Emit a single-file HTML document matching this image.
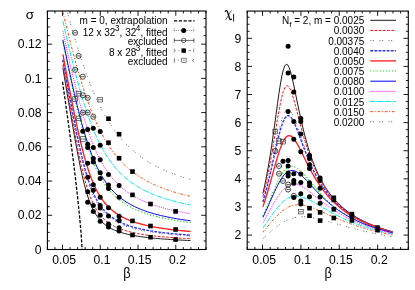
<!DOCTYPE html>
<html><head><meta charset="utf-8"><title>plot</title>
<style>
html,body{margin:0;padding:0;background:#fff;}
svg{display:block;font-family:"Liberation Sans",sans-serif;fill:#000;}
</style></head><body>
<div style="will-change:transform;width:415px;height:290px">
<svg width="415" height="290" viewBox="0 0 415 290">
<rect width="415" height="290" fill="#fff"/>
<g>
<rect x="47.4" y="11.0" width="158.60" height="238.50" fill="none" stroke="#000" stroke-width="1.1"/>
<line x1="47.40" y1="249.50" x2="47.40" y2="247.10" stroke="#000" stroke-width="0.9" />
<line x1="47.40" y1="11.00" x2="47.40" y2="13.40" stroke="#000" stroke-width="0.9" />
<line x1="54.95" y1="249.50" x2="54.95" y2="247.10" stroke="#000" stroke-width="0.9" />
<line x1="54.95" y1="11.00" x2="54.95" y2="13.40" stroke="#000" stroke-width="0.9" />
<line x1="62.50" y1="249.50" x2="62.50" y2="244.70" stroke="#000" stroke-width="0.9" />
<line x1="62.50" y1="11.00" x2="62.50" y2="15.80" stroke="#000" stroke-width="0.9" />
<line x1="70.06" y1="249.50" x2="70.06" y2="247.10" stroke="#000" stroke-width="0.9" />
<line x1="70.06" y1="11.00" x2="70.06" y2="13.40" stroke="#000" stroke-width="0.9" />
<line x1="77.61" y1="249.50" x2="77.61" y2="247.10" stroke="#000" stroke-width="0.9" />
<line x1="77.61" y1="11.00" x2="77.61" y2="13.40" stroke="#000" stroke-width="0.9" />
<line x1="85.16" y1="249.50" x2="85.16" y2="247.10" stroke="#000" stroke-width="0.9" />
<line x1="85.16" y1="11.00" x2="85.16" y2="13.40" stroke="#000" stroke-width="0.9" />
<line x1="92.71" y1="249.50" x2="92.71" y2="247.10" stroke="#000" stroke-width="0.9" />
<line x1="92.71" y1="11.00" x2="92.71" y2="13.40" stroke="#000" stroke-width="0.9" />
<line x1="100.27" y1="249.50" x2="100.27" y2="244.70" stroke="#000" stroke-width="0.9" />
<line x1="100.27" y1="11.00" x2="100.27" y2="15.80" stroke="#000" stroke-width="0.9" />
<line x1="107.82" y1="249.50" x2="107.82" y2="247.10" stroke="#000" stroke-width="0.9" />
<line x1="107.82" y1="11.00" x2="107.82" y2="13.40" stroke="#000" stroke-width="0.9" />
<line x1="115.37" y1="249.50" x2="115.37" y2="247.10" stroke="#000" stroke-width="0.9" />
<line x1="115.37" y1="11.00" x2="115.37" y2="13.40" stroke="#000" stroke-width="0.9" />
<line x1="122.92" y1="249.50" x2="122.92" y2="247.10" stroke="#000" stroke-width="0.9" />
<line x1="122.92" y1="11.00" x2="122.92" y2="13.40" stroke="#000" stroke-width="0.9" />
<line x1="130.48" y1="249.50" x2="130.48" y2="247.10" stroke="#000" stroke-width="0.9" />
<line x1="130.48" y1="11.00" x2="130.48" y2="13.40" stroke="#000" stroke-width="0.9" />
<line x1="138.03" y1="249.50" x2="138.03" y2="244.70" stroke="#000" stroke-width="0.9" />
<line x1="138.03" y1="11.00" x2="138.03" y2="15.80" stroke="#000" stroke-width="0.9" />
<line x1="145.58" y1="249.50" x2="145.58" y2="247.10" stroke="#000" stroke-width="0.9" />
<line x1="145.58" y1="11.00" x2="145.58" y2="13.40" stroke="#000" stroke-width="0.9" />
<line x1="153.13" y1="249.50" x2="153.13" y2="247.10" stroke="#000" stroke-width="0.9" />
<line x1="153.13" y1="11.00" x2="153.13" y2="13.40" stroke="#000" stroke-width="0.9" />
<line x1="160.69" y1="249.50" x2="160.69" y2="247.10" stroke="#000" stroke-width="0.9" />
<line x1="160.69" y1="11.00" x2="160.69" y2="13.40" stroke="#000" stroke-width="0.9" />
<line x1="168.24" y1="249.50" x2="168.24" y2="247.10" stroke="#000" stroke-width="0.9" />
<line x1="168.24" y1="11.00" x2="168.24" y2="13.40" stroke="#000" stroke-width="0.9" />
<line x1="175.79" y1="249.50" x2="175.79" y2="244.70" stroke="#000" stroke-width="0.9" />
<line x1="175.79" y1="11.00" x2="175.79" y2="15.80" stroke="#000" stroke-width="0.9" />
<line x1="183.34" y1="249.50" x2="183.34" y2="247.10" stroke="#000" stroke-width="0.9" />
<line x1="183.34" y1="11.00" x2="183.34" y2="13.40" stroke="#000" stroke-width="0.9" />
<line x1="190.90" y1="249.50" x2="190.90" y2="247.10" stroke="#000" stroke-width="0.9" />
<line x1="190.90" y1="11.00" x2="190.90" y2="13.40" stroke="#000" stroke-width="0.9" />
<line x1="198.45" y1="249.50" x2="198.45" y2="247.10" stroke="#000" stroke-width="0.9" />
<line x1="198.45" y1="11.00" x2="198.45" y2="13.40" stroke="#000" stroke-width="0.9" />
<line x1="206.00" y1="249.50" x2="206.00" y2="247.10" stroke="#000" stroke-width="0.9" />
<line x1="206.00" y1="11.00" x2="206.00" y2="13.40" stroke="#000" stroke-width="0.9" />
<line x1="47.40" y1="240.94" x2="49.80" y2="240.94" stroke="#000" stroke-width="0.9" />
<line x1="206.00" y1="240.94" x2="203.60" y2="240.94" stroke="#000" stroke-width="0.9" />
<line x1="47.40" y1="232.39" x2="49.80" y2="232.39" stroke="#000" stroke-width="0.9" />
<line x1="206.00" y1="232.39" x2="203.60" y2="232.39" stroke="#000" stroke-width="0.9" />
<line x1="47.40" y1="223.84" x2="49.80" y2="223.84" stroke="#000" stroke-width="0.9" />
<line x1="206.00" y1="223.84" x2="203.60" y2="223.84" stroke="#000" stroke-width="0.9" />
<line x1="47.40" y1="215.28" x2="52.20" y2="215.28" stroke="#000" stroke-width="0.9" />
<line x1="206.00" y1="215.28" x2="201.20" y2="215.28" stroke="#000" stroke-width="0.9" />
<line x1="47.40" y1="206.72" x2="49.80" y2="206.72" stroke="#000" stroke-width="0.9" />
<line x1="206.00" y1="206.72" x2="203.60" y2="206.72" stroke="#000" stroke-width="0.9" />
<line x1="47.40" y1="198.17" x2="49.80" y2="198.17" stroke="#000" stroke-width="0.9" />
<line x1="206.00" y1="198.17" x2="203.60" y2="198.17" stroke="#000" stroke-width="0.9" />
<line x1="47.40" y1="189.62" x2="49.80" y2="189.62" stroke="#000" stroke-width="0.9" />
<line x1="206.00" y1="189.62" x2="203.60" y2="189.62" stroke="#000" stroke-width="0.9" />
<line x1="47.40" y1="181.06" x2="52.20" y2="181.06" stroke="#000" stroke-width="0.9" />
<line x1="206.00" y1="181.06" x2="201.20" y2="181.06" stroke="#000" stroke-width="0.9" />
<line x1="47.40" y1="172.50" x2="49.80" y2="172.50" stroke="#000" stroke-width="0.9" />
<line x1="206.00" y1="172.50" x2="203.60" y2="172.50" stroke="#000" stroke-width="0.9" />
<line x1="47.40" y1="163.95" x2="49.80" y2="163.95" stroke="#000" stroke-width="0.9" />
<line x1="206.00" y1="163.95" x2="203.60" y2="163.95" stroke="#000" stroke-width="0.9" />
<line x1="47.40" y1="155.39" x2="49.80" y2="155.39" stroke="#000" stroke-width="0.9" />
<line x1="206.00" y1="155.39" x2="203.60" y2="155.39" stroke="#000" stroke-width="0.9" />
<line x1="47.40" y1="146.84" x2="52.20" y2="146.84" stroke="#000" stroke-width="0.9" />
<line x1="206.00" y1="146.84" x2="201.20" y2="146.84" stroke="#000" stroke-width="0.9" />
<line x1="47.40" y1="138.28" x2="49.80" y2="138.28" stroke="#000" stroke-width="0.9" />
<line x1="206.00" y1="138.28" x2="203.60" y2="138.28" stroke="#000" stroke-width="0.9" />
<line x1="47.40" y1="129.73" x2="49.80" y2="129.73" stroke="#000" stroke-width="0.9" />
<line x1="206.00" y1="129.73" x2="203.60" y2="129.73" stroke="#000" stroke-width="0.9" />
<line x1="47.40" y1="121.18" x2="49.80" y2="121.18" stroke="#000" stroke-width="0.9" />
<line x1="206.00" y1="121.18" x2="203.60" y2="121.18" stroke="#000" stroke-width="0.9" />
<line x1="47.40" y1="112.62" x2="52.20" y2="112.62" stroke="#000" stroke-width="0.9" />
<line x1="206.00" y1="112.62" x2="201.20" y2="112.62" stroke="#000" stroke-width="0.9" />
<line x1="47.40" y1="104.06" x2="49.80" y2="104.06" stroke="#000" stroke-width="0.9" />
<line x1="206.00" y1="104.06" x2="203.60" y2="104.06" stroke="#000" stroke-width="0.9" />
<line x1="47.40" y1="95.51" x2="49.80" y2="95.51" stroke="#000" stroke-width="0.9" />
<line x1="206.00" y1="95.51" x2="203.60" y2="95.51" stroke="#000" stroke-width="0.9" />
<line x1="47.40" y1="86.95" x2="49.80" y2="86.95" stroke="#000" stroke-width="0.9" />
<line x1="206.00" y1="86.95" x2="203.60" y2="86.95" stroke="#000" stroke-width="0.9" />
<line x1="47.40" y1="78.40" x2="52.20" y2="78.40" stroke="#000" stroke-width="0.9" />
<line x1="206.00" y1="78.40" x2="201.20" y2="78.40" stroke="#000" stroke-width="0.9" />
<line x1="47.40" y1="69.84" x2="49.80" y2="69.84" stroke="#000" stroke-width="0.9" />
<line x1="206.00" y1="69.84" x2="203.60" y2="69.84" stroke="#000" stroke-width="0.9" />
<line x1="47.40" y1="61.29" x2="49.80" y2="61.29" stroke="#000" stroke-width="0.9" />
<line x1="206.00" y1="61.29" x2="203.60" y2="61.29" stroke="#000" stroke-width="0.9" />
<line x1="47.40" y1="52.73" x2="49.80" y2="52.73" stroke="#000" stroke-width="0.9" />
<line x1="206.00" y1="52.73" x2="203.60" y2="52.73" stroke="#000" stroke-width="0.9" />
<line x1="47.40" y1="44.18" x2="52.20" y2="44.18" stroke="#000" stroke-width="0.9" />
<line x1="206.00" y1="44.18" x2="201.20" y2="44.18" stroke="#000" stroke-width="0.9" />
<line x1="47.40" y1="35.62" x2="49.80" y2="35.62" stroke="#000" stroke-width="0.9" />
<line x1="206.00" y1="35.62" x2="203.60" y2="35.62" stroke="#000" stroke-width="0.9" />
<line x1="47.40" y1="27.07" x2="49.80" y2="27.07" stroke="#000" stroke-width="0.9" />
<line x1="206.00" y1="27.07" x2="203.60" y2="27.07" stroke="#000" stroke-width="0.9" />
<line x1="47.40" y1="18.51" x2="49.80" y2="18.51" stroke="#000" stroke-width="0.9" />
<line x1="206.00" y1="18.51" x2="203.60" y2="18.51" stroke="#000" stroke-width="0.9" />
<text x="64.20" y="263.80" font-size="12.2" text-anchor="middle" >0.05</text>
<text x="101.97" y="263.80" font-size="12.2" text-anchor="middle" >0.1</text>
<text x="139.73" y="263.80" font-size="12.2" text-anchor="middle" >0.15</text>
<text x="177.49" y="263.80" font-size="12.2" text-anchor="middle" >0.2</text>
<text x="41.60" y="253.70" font-size="12.2" text-anchor="end" >0</text>
<text x="41.60" y="219.48" font-size="12.2" text-anchor="end" >0.02</text>
<text x="41.60" y="185.26" font-size="12.2" text-anchor="end" >0.04</text>
<text x="41.60" y="151.04" font-size="12.2" text-anchor="end" >0.06</text>
<text x="41.60" y="116.82" font-size="12.2" text-anchor="end" >0.08</text>
<text x="41.60" y="82.60" font-size="12.2" text-anchor="end" >0.1</text>
<text x="41.60" y="48.38" font-size="12.2" text-anchor="end" >0.12</text>
<rect x="247.2" y="11.1" width="161.10" height="238.30" fill="none" stroke="#000" stroke-width="1.1"/>
<line x1="247.20" y1="249.40" x2="247.20" y2="247.00" stroke="#000" stroke-width="0.9" />
<line x1="247.20" y1="11.10" x2="247.20" y2="13.50" stroke="#000" stroke-width="0.9" />
<line x1="254.87" y1="249.40" x2="254.87" y2="247.00" stroke="#000" stroke-width="0.9" />
<line x1="254.87" y1="11.10" x2="254.87" y2="13.50" stroke="#000" stroke-width="0.9" />
<line x1="262.54" y1="249.40" x2="262.54" y2="244.60" stroke="#000" stroke-width="0.9" />
<line x1="262.54" y1="11.10" x2="262.54" y2="15.90" stroke="#000" stroke-width="0.9" />
<line x1="270.21" y1="249.40" x2="270.21" y2="247.00" stroke="#000" stroke-width="0.9" />
<line x1="270.21" y1="11.10" x2="270.21" y2="13.50" stroke="#000" stroke-width="0.9" />
<line x1="277.89" y1="249.40" x2="277.89" y2="247.00" stroke="#000" stroke-width="0.9" />
<line x1="277.89" y1="11.10" x2="277.89" y2="13.50" stroke="#000" stroke-width="0.9" />
<line x1="285.56" y1="249.40" x2="285.56" y2="247.00" stroke="#000" stroke-width="0.9" />
<line x1="285.56" y1="11.10" x2="285.56" y2="13.50" stroke="#000" stroke-width="0.9" />
<line x1="293.23" y1="249.40" x2="293.23" y2="247.00" stroke="#000" stroke-width="0.9" />
<line x1="293.23" y1="11.10" x2="293.23" y2="13.50" stroke="#000" stroke-width="0.9" />
<line x1="300.90" y1="249.40" x2="300.90" y2="244.60" stroke="#000" stroke-width="0.9" />
<line x1="300.90" y1="11.10" x2="300.90" y2="15.90" stroke="#000" stroke-width="0.9" />
<line x1="308.57" y1="249.40" x2="308.57" y2="247.00" stroke="#000" stroke-width="0.9" />
<line x1="308.57" y1="11.10" x2="308.57" y2="13.50" stroke="#000" stroke-width="0.9" />
<line x1="316.24" y1="249.40" x2="316.24" y2="247.00" stroke="#000" stroke-width="0.9" />
<line x1="316.24" y1="11.10" x2="316.24" y2="13.50" stroke="#000" stroke-width="0.9" />
<line x1="323.91" y1="249.40" x2="323.91" y2="247.00" stroke="#000" stroke-width="0.9" />
<line x1="323.91" y1="11.10" x2="323.91" y2="13.50" stroke="#000" stroke-width="0.9" />
<line x1="331.59" y1="249.40" x2="331.59" y2="247.00" stroke="#000" stroke-width="0.9" />
<line x1="331.59" y1="11.10" x2="331.59" y2="13.50" stroke="#000" stroke-width="0.9" />
<line x1="339.26" y1="249.40" x2="339.26" y2="244.60" stroke="#000" stroke-width="0.9" />
<line x1="339.26" y1="11.10" x2="339.26" y2="15.90" stroke="#000" stroke-width="0.9" />
<line x1="346.93" y1="249.40" x2="346.93" y2="247.00" stroke="#000" stroke-width="0.9" />
<line x1="346.93" y1="11.10" x2="346.93" y2="13.50" stroke="#000" stroke-width="0.9" />
<line x1="354.60" y1="249.40" x2="354.60" y2="247.00" stroke="#000" stroke-width="0.9" />
<line x1="354.60" y1="11.10" x2="354.60" y2="13.50" stroke="#000" stroke-width="0.9" />
<line x1="362.27" y1="249.40" x2="362.27" y2="247.00" stroke="#000" stroke-width="0.9" />
<line x1="362.27" y1="11.10" x2="362.27" y2="13.50" stroke="#000" stroke-width="0.9" />
<line x1="369.94" y1="249.40" x2="369.94" y2="247.00" stroke="#000" stroke-width="0.9" />
<line x1="369.94" y1="11.10" x2="369.94" y2="13.50" stroke="#000" stroke-width="0.9" />
<line x1="377.61" y1="249.40" x2="377.61" y2="244.60" stroke="#000" stroke-width="0.9" />
<line x1="377.61" y1="11.10" x2="377.61" y2="15.90" stroke="#000" stroke-width="0.9" />
<line x1="385.29" y1="249.40" x2="385.29" y2="247.00" stroke="#000" stroke-width="0.9" />
<line x1="385.29" y1="11.10" x2="385.29" y2="13.50" stroke="#000" stroke-width="0.9" />
<line x1="392.96" y1="249.40" x2="392.96" y2="247.00" stroke="#000" stroke-width="0.9" />
<line x1="392.96" y1="11.10" x2="392.96" y2="13.50" stroke="#000" stroke-width="0.9" />
<line x1="400.63" y1="249.40" x2="400.63" y2="247.00" stroke="#000" stroke-width="0.9" />
<line x1="400.63" y1="11.10" x2="400.63" y2="13.50" stroke="#000" stroke-width="0.9" />
<line x1="408.30" y1="249.40" x2="408.30" y2="247.00" stroke="#000" stroke-width="0.9" />
<line x1="408.30" y1="11.10" x2="408.30" y2="13.50" stroke="#000" stroke-width="0.9" />
<line x1="247.20" y1="242.10" x2="249.60" y2="242.10" stroke="#000" stroke-width="0.9" />
<line x1="408.30" y1="242.10" x2="405.90" y2="242.10" stroke="#000" stroke-width="0.9" />
<line x1="247.20" y1="235.07" x2="252.00" y2="235.07" stroke="#000" stroke-width="0.9" />
<line x1="408.30" y1="235.07" x2="403.50" y2="235.07" stroke="#000" stroke-width="0.9" />
<line x1="247.20" y1="228.04" x2="249.60" y2="228.04" stroke="#000" stroke-width="0.9" />
<line x1="408.30" y1="228.04" x2="405.90" y2="228.04" stroke="#000" stroke-width="0.9" />
<line x1="247.20" y1="221.01" x2="249.60" y2="221.01" stroke="#000" stroke-width="0.9" />
<line x1="408.30" y1="221.01" x2="405.90" y2="221.01" stroke="#000" stroke-width="0.9" />
<line x1="247.20" y1="213.99" x2="249.60" y2="213.99" stroke="#000" stroke-width="0.9" />
<line x1="408.30" y1="213.99" x2="405.90" y2="213.99" stroke="#000" stroke-width="0.9" />
<line x1="247.20" y1="206.96" x2="252.00" y2="206.96" stroke="#000" stroke-width="0.9" />
<line x1="408.30" y1="206.96" x2="403.50" y2="206.96" stroke="#000" stroke-width="0.9" />
<line x1="247.20" y1="199.93" x2="249.60" y2="199.93" stroke="#000" stroke-width="0.9" />
<line x1="408.30" y1="199.93" x2="405.90" y2="199.93" stroke="#000" stroke-width="0.9" />
<line x1="247.20" y1="192.90" x2="249.60" y2="192.90" stroke="#000" stroke-width="0.9" />
<line x1="408.30" y1="192.90" x2="405.90" y2="192.90" stroke="#000" stroke-width="0.9" />
<line x1="247.20" y1="185.88" x2="249.60" y2="185.88" stroke="#000" stroke-width="0.9" />
<line x1="408.30" y1="185.88" x2="405.90" y2="185.88" stroke="#000" stroke-width="0.9" />
<line x1="247.20" y1="178.85" x2="252.00" y2="178.85" stroke="#000" stroke-width="0.9" />
<line x1="408.30" y1="178.85" x2="403.50" y2="178.85" stroke="#000" stroke-width="0.9" />
<line x1="247.20" y1="171.82" x2="249.60" y2="171.82" stroke="#000" stroke-width="0.9" />
<line x1="408.30" y1="171.82" x2="405.90" y2="171.82" stroke="#000" stroke-width="0.9" />
<line x1="247.20" y1="164.80" x2="249.60" y2="164.80" stroke="#000" stroke-width="0.9" />
<line x1="408.30" y1="164.80" x2="405.90" y2="164.80" stroke="#000" stroke-width="0.9" />
<line x1="247.20" y1="157.77" x2="249.60" y2="157.77" stroke="#000" stroke-width="0.9" />
<line x1="408.30" y1="157.77" x2="405.90" y2="157.77" stroke="#000" stroke-width="0.9" />
<line x1="247.20" y1="150.74" x2="252.00" y2="150.74" stroke="#000" stroke-width="0.9" />
<line x1="408.30" y1="150.74" x2="403.50" y2="150.74" stroke="#000" stroke-width="0.9" />
<line x1="247.20" y1="143.71" x2="249.60" y2="143.71" stroke="#000" stroke-width="0.9" />
<line x1="408.30" y1="143.71" x2="405.90" y2="143.71" stroke="#000" stroke-width="0.9" />
<line x1="247.20" y1="136.69" x2="249.60" y2="136.69" stroke="#000" stroke-width="0.9" />
<line x1="408.30" y1="136.69" x2="405.90" y2="136.69" stroke="#000" stroke-width="0.9" />
<line x1="247.20" y1="129.66" x2="249.60" y2="129.66" stroke="#000" stroke-width="0.9" />
<line x1="408.30" y1="129.66" x2="405.90" y2="129.66" stroke="#000" stroke-width="0.9" />
<line x1="247.20" y1="122.63" x2="252.00" y2="122.63" stroke="#000" stroke-width="0.9" />
<line x1="408.30" y1="122.63" x2="403.50" y2="122.63" stroke="#000" stroke-width="0.9" />
<line x1="247.20" y1="115.60" x2="249.60" y2="115.60" stroke="#000" stroke-width="0.9" />
<line x1="408.30" y1="115.60" x2="405.90" y2="115.60" stroke="#000" stroke-width="0.9" />
<line x1="247.20" y1="108.58" x2="249.60" y2="108.58" stroke="#000" stroke-width="0.9" />
<line x1="408.30" y1="108.58" x2="405.90" y2="108.58" stroke="#000" stroke-width="0.9" />
<line x1="247.20" y1="101.55" x2="249.60" y2="101.55" stroke="#000" stroke-width="0.9" />
<line x1="408.30" y1="101.55" x2="405.90" y2="101.55" stroke="#000" stroke-width="0.9" />
<line x1="247.20" y1="94.52" x2="252.00" y2="94.52" stroke="#000" stroke-width="0.9" />
<line x1="408.30" y1="94.52" x2="403.50" y2="94.52" stroke="#000" stroke-width="0.9" />
<line x1="247.20" y1="87.49" x2="249.60" y2="87.49" stroke="#000" stroke-width="0.9" />
<line x1="408.30" y1="87.49" x2="405.90" y2="87.49" stroke="#000" stroke-width="0.9" />
<line x1="247.20" y1="80.47" x2="249.60" y2="80.47" stroke="#000" stroke-width="0.9" />
<line x1="408.30" y1="80.47" x2="405.90" y2="80.47" stroke="#000" stroke-width="0.9" />
<line x1="247.20" y1="73.44" x2="249.60" y2="73.44" stroke="#000" stroke-width="0.9" />
<line x1="408.30" y1="73.44" x2="405.90" y2="73.44" stroke="#000" stroke-width="0.9" />
<line x1="247.20" y1="66.41" x2="252.00" y2="66.41" stroke="#000" stroke-width="0.9" />
<line x1="408.30" y1="66.41" x2="403.50" y2="66.41" stroke="#000" stroke-width="0.9" />
<line x1="247.20" y1="59.38" x2="249.60" y2="59.38" stroke="#000" stroke-width="0.9" />
<line x1="408.30" y1="59.38" x2="405.90" y2="59.38" stroke="#000" stroke-width="0.9" />
<line x1="247.20" y1="52.35" x2="249.60" y2="52.35" stroke="#000" stroke-width="0.9" />
<line x1="408.30" y1="52.35" x2="405.90" y2="52.35" stroke="#000" stroke-width="0.9" />
<line x1="247.20" y1="45.33" x2="249.60" y2="45.33" stroke="#000" stroke-width="0.9" />
<line x1="408.30" y1="45.33" x2="405.90" y2="45.33" stroke="#000" stroke-width="0.9" />
<line x1="247.20" y1="38.30" x2="252.00" y2="38.30" stroke="#000" stroke-width="0.9" />
<line x1="408.30" y1="38.30" x2="403.50" y2="38.30" stroke="#000" stroke-width="0.9" />
<line x1="247.20" y1="31.27" x2="249.60" y2="31.27" stroke="#000" stroke-width="0.9" />
<line x1="408.30" y1="31.27" x2="405.90" y2="31.27" stroke="#000" stroke-width="0.9" />
<line x1="247.20" y1="24.24" x2="249.60" y2="24.24" stroke="#000" stroke-width="0.9" />
<line x1="408.30" y1="24.24" x2="405.90" y2="24.24" stroke="#000" stroke-width="0.9" />
<line x1="247.20" y1="17.22" x2="249.60" y2="17.22" stroke="#000" stroke-width="0.9" />
<line x1="408.30" y1="17.22" x2="405.90" y2="17.22" stroke="#000" stroke-width="0.9" />
<text x="264.24" y="263.70" font-size="12.2" text-anchor="middle" >0.05</text>
<text x="302.60" y="263.70" font-size="12.2" text-anchor="middle" >0.1</text>
<text x="340.96" y="263.70" font-size="12.2" text-anchor="middle" >0.15</text>
<text x="379.31" y="263.70" font-size="12.2" text-anchor="middle" >0.2</text>
<text x="241.40" y="239.27" font-size="12.2" text-anchor="end" >2</text>
<text x="241.40" y="211.16" font-size="12.2" text-anchor="end" >3</text>
<text x="241.40" y="183.05" font-size="12.2" text-anchor="end" >4</text>
<text x="241.40" y="154.94" font-size="12.2" text-anchor="end" >5</text>
<text x="241.40" y="126.83" font-size="12.2" text-anchor="end" >6</text>
<text x="241.40" y="98.72" font-size="12.2" text-anchor="end" >7</text>
<text x="241.40" y="70.61" font-size="12.2" text-anchor="end" >8</text>
<text x="241.40" y="42.50" font-size="12.2" text-anchor="end" >9</text>
<clipPath id="cl"><rect x="47.4" y="11.0" width="158.60" height="238.50"/></clipPath>
<clipPath id="cr"><rect x="247.2" y="11.1" width="161.10" height="238.30"/></clipPath>
<path d="M62.88,68.12 L64.32,76.64 L65.75,85.16 L67.18,93.67 L68.62,102.16 L70.05,110.60 L71.49,118.98 L72.92,127.26 L74.36,135.41 L75.79,143.39 L77.22,151.14 L78.66,158.62 L80.09,165.76 L81.53,172.51 L82.96,178.82 L84.39,184.64 L85.83,189.97 L87.26,194.79 L88.70,199.11 L90.13,202.96 L91.56,206.38 L93.00,209.41 L94.43,212.09 L95.87,214.47 L97.30,216.58 L98.73,218.45 L100.17,220.12 L101.60,221.62 L103.04,222.96 L104.47,224.17 L105.91,225.27 L107.34,226.26 L108.77,227.17 L110.21,228.00 L111.64,228.76 L113.08,229.46 L114.51,230.10 L115.94,230.70 L117.38,231.25 L118.81,231.76 L120.25,232.24 L121.68,232.69 L123.11,233.11 L124.55,233.50 L125.98,233.86 L127.42,234.21 L128.85,234.54 L130.29,234.84 L131.72,235.13 L133.15,235.41 L134.59,235.67 L136.02,235.92 L137.46,236.15 L138.89,236.38 L140.32,236.59 L141.76,236.79 L143.19,236.99 L144.63,237.17 L146.06,237.35 L147.49,237.52 L148.93,237.68 L150.36,237.84 L151.80,237.99 L153.23,238.13 L154.67,238.27 L156.10,238.40 L157.53,238.53 L158.97,238.65 L160.40,238.77 L161.84,238.89 L163.27,239.00 L164.70,239.11 L166.14,239.21 L167.57,239.31 L169.01,239.41 L170.44,239.50 L171.87,239.59 L173.31,239.68 L174.74,239.77 L176.18,239.85 L177.61,239.93 L179.04,240.01 L180.48,240.08 L181.91,240.16 L183.35,240.23 L184.78,240.30 L186.22,240.36 L187.65,240.43 L189.08,240.49 L190.52,240.56" fill="none" stroke="#000000" stroke-width="0.9"  clip-path="url(#cl)"/>
<path d="M262.93,193.40 L264.38,186.91 L265.84,179.87 L267.30,172.24 L268.75,164.00 L270.21,155.13 L271.67,145.65 L273.12,135.62 L274.58,125.14 L276.04,114.42 L277.49,103.73 L278.95,93.46 L280.41,84.06 L281.86,76.04 L283.32,69.85 L284.78,65.86 L286.23,64.21 L287.69,64.86 L289.15,67.55 L290.60,71.91 L292.06,77.52 L293.52,83.96 L294.97,90.89 L296.43,98.01 L297.89,105.12 L299.34,112.07 L300.80,118.77 L302.26,125.15 L303.71,131.19 L305.17,136.88 L306.63,142.21 L308.08,147.22 L309.54,151.90 L311.00,156.28 L312.45,160.38 L313.91,164.21 L315.37,167.80 L316.82,171.17 L318.28,174.33 L319.74,177.29 L321.19,180.08 L322.65,182.71 L324.11,185.19 L325.56,187.53 L327.02,189.74 L328.48,191.83 L329.94,193.81 L331.39,195.69 L332.85,197.47 L334.31,199.16 L335.76,200.78 L337.22,202.31 L338.68,203.78 L340.13,205.18 L341.59,206.51 L343.05,207.79 L344.50,209.01 L345.96,210.18 L347.42,211.30 L348.87,212.38 L350.33,213.41 L351.79,214.40 L353.24,215.35 L354.70,216.27 L356.16,217.16 L357.61,218.01 L359.07,218.83 L360.53,219.62 L361.98,220.39 L363.44,221.12 L364.90,221.84 L366.35,222.53 L367.81,223.19 L369.27,223.84 L370.72,224.47 L372.18,225.07 L373.64,225.66 L375.09,226.23 L376.55,226.78 L378.01,227.32 L379.46,227.84 L380.92,228.34 L382.38,228.84 L383.83,229.31 L385.29,229.78 L386.75,230.23 L388.20,230.67 L389.66,231.10 L391.12,231.52 L392.57,231.92" fill="none" stroke="#000000" stroke-width="0.9"  clip-path="url(#cr)"/>
<path d="M62.88,65.19 L64.32,73.52 L65.75,81.83 L67.18,90.12 L68.62,98.38 L70.05,106.57 L71.49,114.68 L72.92,122.68 L74.36,130.54 L75.79,138.22 L77.22,145.68 L78.66,152.87 L80.09,159.76 L81.53,166.29 L82.96,172.42 L84.39,178.13 L85.83,183.41 L87.26,188.23 L88.70,192.61 L90.13,196.57 L91.56,200.14 L93.00,203.33 L94.43,206.20 L95.87,208.76 L97.30,211.06 L98.73,213.13 L100.17,214.99 L101.60,216.66 L103.04,218.18 L104.47,219.55 L105.91,220.80 L107.34,221.94 L108.77,222.98 L110.21,223.94 L111.64,224.82 L113.08,225.63 L114.51,226.38 L115.94,227.07 L117.38,227.72 L118.81,228.32 L120.25,228.88 L121.68,229.40 L123.11,229.89 L124.55,230.35 L125.98,230.79 L127.42,231.20 L128.85,231.58 L130.29,231.94 L131.72,232.29 L133.15,232.61 L134.59,232.92 L136.02,233.22 L137.46,233.50 L138.89,233.76 L140.32,234.01 L141.76,234.26 L143.19,234.49 L144.63,234.71 L146.06,234.92 L147.49,235.12 L148.93,235.31 L150.36,235.50 L151.80,235.68 L153.23,235.85 L154.67,236.02 L156.10,236.17 L157.53,236.33 L158.97,236.48 L160.40,236.62 L161.84,236.75 L163.27,236.89 L164.70,237.02 L166.14,237.14 L167.57,237.26 L169.01,237.37 L170.44,237.49 L171.87,237.59 L173.31,237.70 L174.74,237.80 L176.18,237.90 L177.61,238.00 L179.04,238.09 L180.48,238.18 L181.91,238.27 L183.35,238.35 L184.78,238.44 L186.22,238.52 L187.65,238.60 L189.08,238.67 L190.52,238.75" fill="none" stroke="#ff0000" stroke-width="0.95" stroke-dasharray="2.8 1.4" clip-path="url(#cl)"/>
<path d="M262.93,196.55 L264.38,190.61 L265.84,184.23 L267.30,177.38 L268.75,170.07 L270.21,162.29 L271.67,154.09 L273.12,145.53 L274.58,136.73 L276.04,127.84 L277.49,119.08 L278.95,110.74 L280.41,103.13 L281.86,96.59 L283.32,91.42 L284.78,87.85 L286.23,86.00 L287.69,85.86 L289.15,87.29 L290.60,90.07 L292.06,93.94 L293.52,98.62 L294.97,103.84 L296.43,109.38 L297.89,115.05 L299.34,120.73 L300.80,126.32 L302.26,131.74 L303.71,136.94 L305.17,141.92 L306.63,146.64 L308.08,151.11 L309.54,155.34 L311.00,159.33 L312.45,163.08 L313.91,166.62 L315.37,169.95 L316.82,173.10 L318.28,176.06 L319.74,178.85 L321.19,181.49 L322.65,183.98 L324.11,186.34 L325.56,188.57 L327.02,190.69 L328.48,192.69 L329.94,194.60 L331.39,196.41 L332.85,198.13 L334.31,199.77 L335.76,201.33 L337.22,202.82 L338.68,204.24 L340.13,205.60 L341.59,206.90 L343.05,208.15 L344.50,209.34 L345.96,210.48 L347.42,211.58 L348.87,212.63 L350.33,213.65 L351.79,214.62 L353.24,215.56 L354.70,216.46 L356.16,217.33 L357.61,218.16 L359.07,218.97 L360.53,219.75 L361.98,220.50 L363.44,221.23 L364.90,221.93 L366.35,222.61 L367.81,223.27 L369.27,223.91 L370.72,224.53 L372.18,225.13 L373.64,225.71 L375.09,226.27 L376.55,226.82 L378.01,227.35 L379.46,227.86 L380.92,228.36 L382.38,228.85 L383.83,229.32 L385.29,229.78 L386.75,230.23 L388.20,230.67 L389.66,231.09 L391.12,231.51 L392.57,231.91" fill="none" stroke="#ff0000" stroke-width="0.95" stroke-dasharray="2.8 1.4" clip-path="url(#cr)"/>
<path d="M62.88,60.96 L64.32,69.04 L65.75,77.08 L67.18,85.08 L68.62,93.02 L70.05,100.89 L71.49,108.66 L72.92,116.31 L74.36,123.81 L75.79,131.13 L77.22,138.24 L78.66,145.10 L80.09,151.68 L81.53,157.94 L82.96,163.87 L84.39,169.43 L85.83,174.61 L87.26,179.42 L88.70,183.84 L90.13,187.89 L91.56,191.59 L93.00,194.96 L94.43,198.02 L95.87,200.80 L97.30,203.32 L98.73,205.61 L100.17,207.69 L101.60,209.59 L103.04,211.32 L104.47,212.90 L105.91,214.34 L107.34,215.67 L108.77,216.89 L110.21,218.02 L111.64,219.06 L113.08,220.02 L114.51,220.91 L115.94,221.74 L117.38,222.52 L118.81,223.24 L120.25,223.92 L121.68,224.55 L123.11,225.14 L124.55,225.70 L125.98,226.23 L127.42,226.73 L128.85,227.20 L130.29,227.64 L131.72,228.06 L133.15,228.46 L134.59,228.84 L136.02,229.20 L137.46,229.54 L138.89,229.87 L140.32,230.18 L141.76,230.47 L143.19,230.76 L144.63,231.03 L146.06,231.29 L147.49,231.54 L148.93,231.78 L150.36,232.01 L151.80,232.23 L153.23,232.44 L154.67,232.65 L156.10,232.84 L157.53,233.03 L158.97,233.22 L160.40,233.39 L161.84,233.56 L163.27,233.73 L164.70,233.88 L166.14,234.04 L167.57,234.19 L169.01,234.33 L170.44,234.47 L171.87,234.60 L173.31,234.73 L174.74,234.86 L176.18,234.98 L177.61,235.10 L179.04,235.22 L180.48,235.33 L181.91,235.44 L183.35,235.55 L184.78,235.65 L186.22,235.75 L187.65,235.85 L189.08,235.95 L190.52,236.04" fill="none" stroke="#707070" stroke-width="1.0" stroke-dasharray="1.1 1.5 1.1 5.4" clip-path="url(#cl)"/>
<path d="M262.93,200.77 L264.38,195.51 L265.84,189.93 L267.30,184.02 L268.75,177.78 L270.21,171.26 L271.67,164.47 L273.12,157.51 L274.58,150.45 L276.04,143.42 L277.49,136.58 L278.95,130.12 L280.41,124.23 L281.86,119.12 L283.32,114.96 L284.78,111.90 L286.23,110.00 L287.69,109.28 L289.15,109.69 L290.60,111.11 L292.06,113.39 L293.52,116.37 L294.97,119.89 L296.43,123.78 L297.89,127.91 L299.34,132.17 L300.80,136.47 L302.26,140.75 L303.71,144.94 L305.17,149.02 L306.63,152.96 L308.08,156.74 L309.54,160.37 L311.00,163.82 L312.45,167.12 L313.91,170.25 L315.37,173.22 L316.82,176.05 L318.28,178.73 L319.74,181.28 L321.19,183.69 L322.65,185.99 L324.11,188.17 L325.56,190.25 L327.02,192.22 L328.48,194.10 L329.94,195.89 L331.39,197.60 L332.85,199.23 L334.31,200.78 L335.76,202.27 L337.22,203.69 L338.68,205.05 L340.13,206.35 L341.59,207.59 L343.05,208.79 L344.50,209.94 L345.96,211.04 L347.42,212.10 L348.87,213.11 L350.33,214.09 L351.79,215.04 L353.24,215.94 L354.70,216.82 L356.16,217.66 L357.61,218.48 L359.07,219.26 L360.53,220.02 L361.98,220.76 L363.44,221.47 L364.90,222.15 L366.35,222.82 L367.81,223.46 L369.27,224.09 L370.72,224.69 L372.18,225.28 L373.64,225.85 L375.09,226.40 L376.55,226.94 L378.01,227.46 L379.46,227.96 L380.92,228.46 L382.38,228.93 L383.83,229.40 L385.29,229.85 L386.75,230.29 L388.20,230.72 L389.66,231.14 L391.12,231.55 L392.57,231.95" fill="none" stroke="#707070" stroke-width="1.0" stroke-dasharray="1.1 1.5 1.1 5.4" clip-path="url(#cr)"/>
<path d="M62.88,59.60 L64.32,67.59 L65.75,75.55 L67.18,83.46 L68.62,91.31 L70.05,99.09 L71.49,106.76 L72.92,114.30 L74.36,121.70 L75.79,128.91 L77.22,135.92 L78.66,142.69 L80.09,149.18 L81.53,155.37 L82.96,161.23 L84.39,166.75 L85.83,171.90 L87.26,176.69 L88.70,181.12 L90.13,185.19 L91.56,188.93 L93.00,192.34 L94.43,195.45 L95.87,198.28 L97.30,200.86 L98.73,203.22 L100.17,205.36 L101.60,207.32 L103.04,209.11 L104.47,210.75 L105.91,212.25 L107.34,213.64 L108.77,214.91 L110.21,216.09 L111.64,217.18 L113.08,218.19 L114.51,219.12 L115.94,220.00 L117.38,220.81 L118.81,221.57 L120.25,222.28 L121.68,222.95 L123.11,223.58 L124.55,224.17 L125.98,224.73 L127.42,225.25 L128.85,225.75 L130.29,226.22 L131.72,226.66 L133.15,227.08 L134.59,227.48 L136.02,227.87 L137.46,228.23 L138.89,228.58 L140.32,228.91 L141.76,229.22 L143.19,229.52 L144.63,229.81 L146.06,230.09 L147.49,230.35 L148.93,230.61 L150.36,230.85 L151.80,231.09 L153.23,231.31 L154.67,231.53 L156.10,231.74 L157.53,231.94 L158.97,232.13 L160.40,232.32 L161.84,232.50 L163.27,232.67 L164.70,232.84 L166.14,233.01 L167.57,233.16 L169.01,233.32 L170.44,233.47 L171.87,233.61 L173.31,233.75 L174.74,233.88 L176.18,234.01 L177.61,234.14 L179.04,234.26 L180.48,234.38 L181.91,234.50 L183.35,234.61 L184.78,234.72 L186.22,234.83 L187.65,234.94 L189.08,235.04 L190.52,235.14" fill="none" stroke="#3030ff" stroke-width="1.4" stroke-dasharray="2.8 1.3" clip-path="url(#cl)"/>
<path d="M262.93,202.06 L264.38,197.00 L265.84,191.65 L267.30,185.99 L268.75,180.06 L270.21,173.87 L271.67,167.46 L273.12,160.91 L274.58,154.30 L276.04,147.74 L277.49,141.38 L278.95,135.38 L280.41,129.91 L281.86,125.14 L283.32,121.23 L284.78,118.31 L286.23,116.43 L287.69,115.60 L289.15,115.80 L290.60,116.92 L292.06,118.84 L293.52,121.42 L294.97,124.51 L296.43,127.99 L297.89,131.72 L299.34,135.61 L300.80,139.57 L302.26,143.52 L303.71,147.43 L305.17,151.25 L306.63,154.96 L308.08,158.55 L309.54,161.99 L311.00,165.29 L312.45,168.44 L313.91,171.44 L315.37,174.31 L316.82,177.03 L318.28,179.63 L319.74,182.09 L321.19,184.44 L322.65,186.68 L324.11,188.80 L325.56,190.83 L327.02,192.75 L328.48,194.59 L329.94,196.34 L331.39,198.02 L332.85,199.61 L334.31,201.14 L335.76,202.60 L337.22,204.00 L338.68,205.33 L340.13,206.62 L341.59,207.84 L343.05,209.02 L344.50,210.15 L345.96,211.24 L347.42,212.29 L348.87,213.29 L350.33,214.26 L351.79,215.19 L353.24,216.09 L354.70,216.96 L356.16,217.79 L357.61,218.60 L359.07,219.38 L360.53,220.13 L361.98,220.86 L363.44,221.56 L364.90,222.24 L366.35,222.90 L367.81,223.54 L369.27,224.16 L370.72,224.76 L372.18,225.34 L373.64,225.91 L375.09,226.46 L376.55,226.99 L378.01,227.51 L379.46,228.01 L380.92,228.50 L382.38,228.98 L383.83,229.44 L385.29,229.89 L386.75,230.33 L388.20,230.75 L389.66,231.17 L391.12,231.58 L392.57,231.97" fill="none" stroke="#3030ff" stroke-width="1.4" stroke-dasharray="2.8 1.3" clip-path="url(#cr)"/>
<path d="M62.88,54.31 L64.32,62.02 L65.75,69.68 L67.18,77.27 L68.62,84.79 L70.05,92.22 L71.49,99.54 L72.92,106.73 L74.36,113.77 L75.79,120.63 L77.22,127.30 L78.66,133.74 L80.09,139.94 L81.53,145.87 L82.96,151.52 L84.39,156.88 L85.83,161.92 L87.26,166.66 L88.70,171.08 L90.13,175.19 L91.56,179.01 L93.00,182.54 L94.43,185.80 L95.87,188.80 L97.30,191.57 L98.73,194.12 L100.17,196.47 L101.60,198.64 L103.04,200.64 L104.47,202.48 L105.91,204.19 L107.34,205.77 L108.77,207.23 L110.21,208.59 L111.64,209.85 L113.08,211.03 L114.51,212.13 L115.94,213.16 L117.38,214.12 L118.81,215.02 L120.25,215.87 L121.68,216.67 L123.11,217.42 L124.55,218.13 L125.98,218.79 L127.42,219.43 L128.85,220.02 L130.29,220.59 L131.72,221.13 L133.15,221.64 L134.59,222.13 L136.02,222.59 L137.46,223.03 L138.89,223.46 L140.32,223.86 L141.76,224.24 L143.19,224.61 L144.63,224.97 L146.06,225.30 L147.49,225.63 L148.93,225.94 L150.36,226.24 L151.80,226.53 L153.23,226.80 L154.67,227.07 L156.10,227.33 L157.53,227.58 L158.97,227.81 L160.40,228.05 L161.84,228.27 L163.27,228.48 L164.70,228.69 L166.14,228.89 L167.57,229.09 L169.01,229.28 L170.44,229.46 L171.87,229.64 L173.31,229.81 L174.74,229.98 L176.18,230.14 L177.61,230.30 L179.04,230.45 L180.48,230.60 L181.91,230.74 L183.35,230.88 L184.78,231.02 L186.22,231.15 L187.65,231.28 L189.08,231.41 L190.52,231.53" fill="none" stroke="#ff2020" stroke-width="1.35"  clip-path="url(#cl)"/>
<path d="M262.93,206.74 L264.38,202.35 L265.84,197.76 L267.30,192.97 L268.75,188.00 L270.21,182.89 L271.67,177.68 L273.12,172.41 L274.58,167.16 L276.04,162.01 L277.49,157.05 L278.95,152.40 L280.41,148.14 L281.86,144.39 L283.32,141.24 L284.78,138.76 L286.23,136.99 L287.69,135.95 L289.15,135.62 L290.60,135.95 L292.06,136.89 L293.52,138.36 L294.97,140.27 L296.43,142.52 L297.89,145.06 L299.34,147.79 L300.80,150.65 L302.26,153.59 L303.71,156.56 L305.17,159.53 L306.63,162.47 L308.08,165.35 L309.54,168.17 L311.00,170.90 L312.45,173.55 L313.91,176.10 L315.37,178.55 L316.82,180.91 L318.28,183.18 L319.74,185.35 L321.19,187.44 L322.65,189.43 L324.11,191.34 L325.56,193.17 L327.02,194.92 L328.48,196.60 L329.94,198.21 L331.39,199.75 L332.85,201.22 L334.31,202.64 L335.76,203.99 L337.22,205.30 L338.68,206.55 L340.13,207.75 L341.59,208.91 L343.05,210.02 L344.50,211.09 L345.96,212.12 L347.42,213.11 L348.87,214.07 L350.33,214.99 L351.79,215.88 L353.24,216.74 L354.70,217.57 L356.16,218.37 L357.61,219.14 L359.07,219.89 L360.53,220.62 L361.98,221.32 L363.44,222.00 L364.90,222.65 L366.35,223.29 L367.81,223.91 L369.27,224.51 L370.72,225.09 L372.18,225.65 L373.64,226.20 L375.09,226.74 L376.55,227.25 L378.01,227.76 L379.46,228.25 L380.92,228.72 L382.38,229.19 L383.83,229.64 L385.29,230.08 L386.75,230.51 L388.20,230.93 L389.66,231.33 L391.12,231.73 L392.57,232.12" fill="none" stroke="#ff2020" stroke-width="1.35"  clip-path="url(#cr)"/>
<path d="M62.88,42.18 L64.32,49.31 L65.75,56.38 L67.18,63.36 L68.62,70.25 L70.05,77.04 L71.49,83.71 L72.92,90.25 L74.36,96.65 L75.79,102.89 L77.22,108.95 L78.66,114.84 L80.09,120.52 L81.53,126.00 L82.96,131.26 L84.39,136.29 L85.83,141.09 L87.26,145.66 L88.70,149.99 L90.13,154.09 L91.56,157.95 L93.00,161.60 L94.43,165.03 L95.87,168.25 L97.30,171.27 L98.73,174.10 L100.17,176.76 L101.60,179.25 L103.04,181.58 L104.47,183.77 L105.91,185.81 L107.34,187.73 L108.77,189.54 L110.21,191.23 L111.64,192.82 L113.08,194.32 L114.51,195.73 L115.94,197.06 L117.38,198.32 L118.81,199.50 L120.25,200.62 L121.68,201.68 L123.11,202.69 L124.55,203.64 L125.98,204.54 L127.42,205.40 L128.85,206.22 L130.29,207.00 L131.72,207.74 L133.15,208.45 L134.59,209.12 L136.02,209.77 L137.46,210.38 L138.89,210.98 L140.32,211.54 L141.76,212.08 L143.19,212.60 L144.63,213.10 L146.06,213.58 L147.49,214.04 L148.93,214.48 L150.36,214.91 L151.80,215.32 L153.23,215.72 L154.67,216.10 L156.10,216.47 L157.53,216.82 L158.97,217.17 L160.40,217.50 L161.84,217.82 L163.27,218.13 L164.70,218.43 L166.14,218.72 L167.57,219.01 L169.01,219.28 L170.44,219.55 L171.87,219.80 L173.31,220.05 L174.74,220.30 L176.18,220.53 L177.61,220.76 L179.04,220.98 L180.48,221.20 L181.91,221.41 L183.35,221.62 L184.78,221.82 L186.22,222.01 L187.65,222.20 L189.08,222.39 L190.52,222.56" fill="none" stroke="#00e000" stroke-width="1.1" stroke-dasharray="1.1 2.0" clip-path="url(#cl)"/>
<path d="M262.93,215.92 L264.38,212.65 L265.84,209.29 L267.30,205.87 L268.75,202.39 L270.21,198.88 L271.67,195.37 L273.12,191.89 L274.58,188.48 L276.04,185.18 L277.49,182.02 L278.95,179.06 L280.41,176.33 L281.86,173.88 L283.32,171.73 L284.78,169.93 L286.23,168.47 L287.69,167.38 L289.15,166.66 L290.60,166.29 L292.06,166.25 L293.52,166.53 L294.97,167.08 L296.43,167.89 L297.89,168.92 L299.34,170.13 L300.80,171.49 L302.26,172.97 L303.71,174.55 L305.17,176.20 L306.63,177.89 L308.08,179.62 L309.54,181.36 L311.00,183.10 L312.45,184.83 L313.91,186.54 L315.37,188.22 L316.82,189.87 L318.28,191.49 L319.74,193.07 L321.19,194.61 L322.65,196.11 L324.11,197.56 L325.56,198.97 L327.02,200.34 L328.48,201.66 L329.94,202.94 L331.39,204.18 L332.85,205.38 L334.31,206.55 L335.76,207.67 L337.22,208.76 L338.68,209.81 L340.13,210.82 L341.59,211.81 L343.05,212.76 L344.50,213.68 L345.96,214.57 L347.42,215.43 L348.87,216.26 L350.33,217.07 L351.79,217.86 L353.24,218.62 L354.70,219.35 L356.16,220.06 L357.61,220.76 L359.07,221.43 L360.53,222.08 L361.98,222.71 L363.44,223.33 L364.90,223.92 L366.35,224.50 L367.81,225.07 L369.27,225.62 L370.72,226.15 L372.18,226.67 L373.64,227.17 L375.09,227.66 L376.55,228.14 L378.01,228.61 L379.46,229.06 L380.92,229.51 L382.38,229.94 L383.83,230.36 L385.29,230.77 L386.75,231.17 L388.20,231.56 L389.66,231.94 L391.12,232.31 L392.57,232.68" fill="none" stroke="#00e000" stroke-width="1.1" stroke-dasharray="1.1 2.0" clip-path="url(#cr)"/>
<path d="M62.88,39.91 L64.32,46.95 L65.75,53.91 L67.18,60.79 L68.62,67.58 L70.05,74.26 L71.49,80.83 L72.92,87.27 L74.36,93.57 L75.79,99.71 L77.22,105.68 L78.66,111.48 L80.09,117.08 L81.53,122.49 L82.96,127.68 L84.39,132.66 L85.83,137.42 L87.26,141.95 L88.70,146.26 L90.13,150.35 L91.56,154.21 L93.00,157.87 L94.43,161.31 L95.87,164.55 L97.30,167.60 L98.73,170.47 L100.17,173.17 L101.60,175.70 L103.04,178.07 L104.47,180.30 L105.91,182.40 L107.34,184.37 L108.77,186.23 L110.21,187.97 L111.64,189.61 L113.08,191.16 L114.51,192.62 L115.94,194.00 L117.38,195.30 L118.81,196.53 L120.25,197.70 L121.68,198.81 L123.11,199.85 L124.55,200.85 L125.98,201.79 L127.42,202.69 L128.85,203.55 L130.29,204.36 L131.72,205.14 L133.15,205.88 L134.59,206.59 L136.02,207.27 L137.46,207.91 L138.89,208.54 L140.32,209.13 L141.76,209.70 L143.19,210.25 L144.63,210.77 L146.06,211.28 L147.49,211.76 L148.93,212.23 L150.36,212.68 L151.80,213.12 L153.23,213.53 L154.67,213.94 L156.10,214.33 L157.53,214.70 L158.97,215.07 L160.40,215.42 L161.84,215.76 L163.27,216.09 L164.70,216.41 L166.14,216.71 L167.57,217.01 L169.01,217.30 L170.44,217.58 L171.87,217.86 L173.31,218.12 L174.74,218.38 L176.18,218.63 L177.61,218.87 L179.04,219.11 L180.48,219.34 L181.91,219.56 L183.35,219.78 L184.78,219.99 L186.22,220.20 L187.65,220.40 L189.08,220.59 L190.52,220.78" fill="none" stroke="#0000ff" stroke-width="1.0"  clip-path="url(#cl)"/>
<path d="M262.93,217.43 L264.38,214.32 L265.84,211.15 L267.30,207.91 L268.75,204.63 L270.21,201.34 L271.67,198.05 L273.12,194.80 L274.58,191.61 L276.04,188.53 L277.49,185.60 L278.95,182.84 L280.41,180.29 L281.86,178.00 L283.32,175.98 L284.78,174.26 L286.23,172.86 L287.69,171.79 L289.15,171.04 L290.60,170.61 L292.06,170.49 L293.52,170.65 L294.97,171.07 L296.43,171.72 L297.89,172.58 L299.34,173.61 L300.80,174.79 L302.26,176.09 L303.71,177.49 L305.17,178.96 L306.63,180.49 L308.08,182.05 L309.54,183.64 L311.00,185.23 L312.45,186.83 L313.91,188.41 L315.37,189.97 L316.82,191.51 L318.28,193.03 L319.74,194.51 L321.19,195.96 L322.65,197.37 L324.11,198.75 L325.56,200.09 L327.02,201.39 L328.48,202.65 L329.94,203.87 L331.39,205.06 L332.85,206.21 L334.31,207.33 L335.76,208.41 L337.22,209.45 L338.68,210.47 L340.13,211.45 L341.59,212.40 L343.05,213.32 L344.50,214.21 L345.96,215.08 L347.42,215.91 L348.87,216.72 L350.33,217.51 L351.79,218.27 L353.24,219.01 L354.70,219.73 L356.16,220.43 L357.61,221.10 L359.07,221.76 L360.53,222.40 L361.98,223.02 L363.44,223.62 L364.90,224.20 L366.35,224.77 L367.81,225.33 L369.27,225.86 L370.72,226.39 L372.18,226.90 L373.64,227.39 L375.09,227.88 L376.55,228.35 L378.01,228.80 L379.46,229.25 L380.92,229.69 L382.38,230.11 L383.83,230.53 L385.29,230.93 L386.75,231.32 L388.20,231.71 L389.66,232.09 L391.12,232.45 L392.57,232.81" fill="none" stroke="#0000ff" stroke-width="1.0"  clip-path="url(#cr)"/>
<path d="M62.88,31.25 L64.32,37.94 L65.75,44.55 L67.18,51.08 L68.62,57.51 L70.05,63.84 L71.49,70.05 L72.92,76.14 L74.36,82.09 L75.79,87.90 L77.22,93.56 L78.66,99.06 L80.09,104.39 L81.53,109.54 L82.96,114.52 L84.39,119.30 L85.83,123.90 L87.26,128.31 L88.70,132.53 L90.13,136.55 L91.56,140.39 L93.00,144.04 L94.43,147.51 L95.87,150.81 L97.30,153.93 L98.73,156.89 L100.17,159.69 L101.60,162.35 L103.04,164.86 L104.47,167.24 L105.91,169.49 L107.34,171.62 L108.77,173.63 L110.21,175.54 L111.64,177.35 L113.08,179.06 L114.51,180.69 L115.94,182.23 L117.38,183.70 L118.81,185.09 L120.25,186.41 L121.68,187.67 L123.11,188.87 L124.55,190.01 L125.98,191.10 L127.42,192.13 L128.85,193.13 L130.29,194.07 L131.72,194.98 L133.15,195.85 L134.59,196.68 L136.02,197.47 L137.46,198.24 L138.89,198.97 L140.32,199.67 L141.76,200.35 L143.19,201.00 L144.63,201.62 L146.06,202.22 L147.49,202.80 L148.93,203.36 L150.36,203.90 L151.80,204.42 L153.23,204.92 L154.67,205.40 L156.10,205.87 L157.53,206.32 L158.97,206.76 L160.40,207.18 L161.84,207.59 L163.27,207.99 L164.70,208.37 L166.14,208.75 L167.57,209.11 L169.01,209.46 L170.44,209.80 L171.87,210.13 L173.31,210.45 L174.74,210.77 L176.18,211.07 L177.61,211.37 L179.04,211.65 L180.48,211.93 L181.91,212.21 L183.35,212.47 L184.78,212.73 L186.22,212.98 L187.65,213.23 L189.08,213.47 L190.52,213.70" fill="none" stroke="#ff00ff" stroke-width="0.9" stroke-dasharray="1.0 1.0" clip-path="url(#cl)"/>
<path d="M262.93,222.71 L264.38,220.13 L265.84,217.51 L267.30,214.87 L268.75,212.22 L270.21,209.58 L271.67,206.96 L273.12,204.39 L274.58,201.88 L276.04,199.47 L277.49,197.16 L278.95,195.00 L280.41,192.99 L281.86,191.15 L283.32,189.51 L284.78,188.08 L286.23,186.86 L287.69,185.87 L289.15,185.10 L290.60,184.55 L292.06,184.21 L293.52,184.08 L294.97,184.14 L296.43,184.38 L297.89,184.77 L299.34,185.31 L300.80,185.98 L302.26,186.76 L303.71,187.63 L305.17,188.58 L306.63,189.60 L308.08,190.66 L309.54,191.77 L311.00,192.90 L312.45,194.06 L313.91,195.22 L315.37,196.40 L316.82,197.57 L318.28,198.73 L319.74,199.89 L321.19,201.03 L322.65,202.15 L324.11,203.26 L325.56,204.35 L327.02,205.41 L328.48,206.45 L329.94,207.47 L331.39,208.47 L332.85,209.44 L334.31,210.39 L335.76,211.31 L337.22,212.21 L338.68,213.09 L340.13,213.94 L341.59,214.77 L343.05,215.57 L344.50,216.36 L345.96,217.12 L347.42,217.87 L348.87,218.59 L350.33,219.29 L351.79,219.98 L353.24,220.64 L354.70,221.29 L356.16,221.92 L357.61,222.53 L359.07,223.13 L360.53,223.71 L361.98,224.28 L363.44,224.83 L364.90,225.37 L366.35,225.89 L367.81,226.40 L369.27,226.90 L370.72,227.38 L372.18,227.86 L373.64,228.32 L375.09,228.77 L376.55,229.20 L378.01,229.63 L379.46,230.05 L380.92,230.46 L382.38,230.86 L383.83,231.25 L385.29,231.63 L386.75,232.00 L388.20,232.36 L389.66,232.71 L391.12,233.06 L392.57,233.40" fill="none" stroke="#ff00ff" stroke-width="0.9" stroke-dasharray="1.0 1.0" clip-path="url(#cr)"/>
<path d="M62.88,21.24 L64.32,27.57 L65.75,33.82 L67.18,39.99 L68.62,46.06 L70.05,52.02 L71.49,57.88 L72.92,63.62 L74.36,69.24 L75.79,74.72 L77.22,80.07 L78.66,85.28 L80.09,90.34 L81.53,95.24 L82.96,99.99 L84.39,104.58 L85.83,109.01 L87.26,113.27 L88.70,117.37 L90.13,121.31 L91.56,125.09 L93.00,128.70 L94.43,132.16 L95.87,135.47 L97.30,138.63 L98.73,141.64 L100.17,144.52 L101.60,147.26 L103.04,149.87 L104.47,152.36 L105.91,154.73 L107.34,156.99 L108.77,159.14 L110.21,161.19 L111.64,163.15 L113.08,165.01 L114.51,166.79 L115.94,168.48 L117.38,170.09 L118.81,171.64 L120.25,173.11 L121.68,174.52 L123.11,175.86 L124.55,177.15 L125.98,178.38 L127.42,179.56 L128.85,180.69 L130.29,181.78 L131.72,182.82 L133.15,183.81 L134.59,184.77 L136.02,185.69 L137.46,186.58 L138.89,187.43 L140.32,188.25 L141.76,189.04 L143.19,189.80 L144.63,190.53 L146.06,191.23 L147.49,191.91 L148.93,192.57 L150.36,193.21 L151.80,193.82 L153.23,194.42 L154.67,194.99 L156.10,195.55 L157.53,196.08 L158.97,196.60 L160.40,197.11 L161.84,197.60 L163.27,198.07 L164.70,198.53 L166.14,198.98 L167.57,199.41 L169.01,199.84 L170.44,200.24 L171.87,200.64 L173.31,201.03 L174.74,201.41 L176.18,201.77 L177.61,202.13 L179.04,202.47 L180.48,202.81 L181.91,203.14 L183.35,203.46 L184.78,203.78 L186.22,204.08 L187.65,204.38 L189.08,204.67 L190.52,204.95" fill="none" stroke="#00e8e8" stroke-width="1.0" stroke-dasharray="4.9 0.9 1.0 0.9" clip-path="url(#cl)"/>
<path d="M262.93,228.01 L264.38,225.88 L265.84,223.74 L267.30,221.60 L268.75,219.47 L270.21,217.36 L271.67,215.28 L273.12,213.25 L274.58,211.28 L276.04,209.38 L277.49,207.57 L278.95,205.86 L280.41,204.26 L281.86,202.79 L283.32,201.45 L284.78,200.26 L286.23,199.21 L287.69,198.32 L289.15,197.57 L290.60,196.98 L292.06,196.54 L293.52,196.25 L294.97,196.09 L296.43,196.06 L297.89,196.15 L299.34,196.36 L300.80,196.66 L302.26,197.06 L303.71,197.54 L305.17,198.10 L306.63,198.71 L308.08,199.38 L309.54,200.09 L311.00,200.84 L312.45,201.63 L313.91,202.43 L315.37,203.26 L316.82,204.09 L318.28,204.94 L319.74,205.79 L321.19,206.64 L322.65,207.50 L324.11,208.34 L325.56,209.18 L327.02,210.01 L328.48,210.84 L329.94,211.65 L331.39,212.45 L332.85,213.23 L334.31,214.00 L335.76,214.76 L337.22,215.50 L338.68,216.23 L340.13,216.94 L341.59,217.64 L343.05,218.32 L344.50,218.99 L345.96,219.64 L347.42,220.28 L348.87,220.91 L350.33,221.51 L351.79,222.11 L353.24,222.69 L354.70,223.26 L356.16,223.81 L357.61,224.35 L359.07,224.88 L360.53,225.40 L361.98,225.90 L363.44,226.39 L364.90,226.87 L366.35,227.34 L367.81,227.80 L369.27,228.25 L370.72,228.69 L372.18,229.12 L373.64,229.54 L375.09,229.94 L376.55,230.34 L378.01,230.74 L379.46,231.12 L380.92,231.49 L382.38,231.86 L383.83,232.22 L385.29,232.57 L386.75,232.91 L388.20,233.24 L389.66,233.57 L391.12,233.89 L392.57,234.21" fill="none" stroke="#00e8e8" stroke-width="1.0" stroke-dasharray="4.9 0.9 1.0 0.9" clip-path="url(#cr)"/>
<path d="M62.88,11.94 L64.32,17.98 L65.75,23.93 L67.18,29.80 L68.62,35.57 L70.05,41.25 L71.49,46.82 L72.92,52.28 L74.36,57.62 L75.79,62.85 L77.22,67.94 L78.66,72.91 L80.09,77.75 L81.53,82.45 L82.96,87.01 L84.39,91.43 L85.83,95.71 L87.26,99.85 L88.70,103.84 L90.13,107.69 L91.56,111.39 L93.00,114.96 L94.43,118.38 L95.87,121.68 L97.30,124.84 L98.73,127.87 L100.17,130.77 L101.60,133.56 L103.04,136.22 L104.47,138.78 L105.91,141.22 L107.34,143.56 L108.77,145.80 L110.21,147.94 L111.64,150.00 L113.08,151.96 L114.51,153.84 L115.94,155.64 L117.38,157.37 L118.81,159.03 L120.25,160.61 L121.68,162.13 L123.11,163.59 L124.55,164.99 L125.98,166.34 L127.42,167.63 L128.85,168.87 L130.29,170.06 L131.72,171.21 L133.15,172.31 L134.59,173.37 L136.02,174.40 L137.46,175.38 L138.89,176.33 L140.32,177.25 L141.76,178.13 L143.19,178.99 L144.63,179.81 L146.06,180.61 L147.49,181.38 L148.93,182.12 L150.36,182.84 L151.80,183.54 L153.23,184.21 L154.67,184.86 L156.10,185.50 L157.53,186.11 L158.97,186.71 L160.40,187.28 L161.84,187.84 L163.27,188.39 L164.70,188.91 L166.14,189.43 L167.57,189.93 L169.01,190.41 L170.44,190.88 L171.87,191.34 L173.31,191.79 L174.74,192.22 L176.18,192.64 L177.61,193.06 L179.04,193.46 L180.48,193.85 L181.91,194.23 L183.35,194.60 L184.78,194.96 L186.22,195.32 L187.65,195.66 L189.08,196.00 L190.52,196.33" fill="none" stroke="#ff4500" stroke-width="1.0" stroke-dasharray="2.6 1.8 1.0 1.8" clip-path="url(#cl)"/>
<path d="M262.93,232.28 L264.38,230.48 L265.84,228.67 L267.30,226.88 L268.75,225.10 L270.21,223.35 L271.67,221.63 L273.12,219.95 L274.58,218.33 L276.04,216.76 L277.49,215.27 L278.95,213.85 L280.41,212.52 L281.86,211.29 L283.32,210.16 L284.78,209.13 L286.23,208.21 L287.69,207.40 L289.15,206.70 L290.60,206.11 L292.06,205.64 L293.52,205.27 L294.97,205.01 L296.43,204.85 L297.89,204.78 L299.34,204.80 L300.80,204.90 L302.26,205.08 L303.71,205.32 L305.17,205.63 L306.63,206.00 L308.08,206.42 L309.54,206.88 L311.00,207.38 L312.45,207.91 L313.91,208.47 L315.37,209.05 L316.82,209.66 L318.28,210.27 L319.74,210.90 L321.19,211.54 L322.65,212.19 L324.11,212.84 L325.56,213.49 L327.02,214.14 L328.48,214.79 L329.94,215.44 L331.39,216.08 L332.85,216.72 L334.31,217.35 L335.76,217.97 L337.22,218.58 L338.68,219.19 L340.13,219.78 L341.59,220.37 L343.05,220.94 L344.50,221.51 L345.96,222.07 L347.42,222.61 L348.87,223.15 L350.33,223.67 L351.79,224.19 L353.24,224.70 L354.70,225.19 L356.16,225.68 L357.61,226.15 L359.07,226.62 L360.53,227.07 L361.98,227.52 L363.44,227.96 L364.90,228.39 L366.35,228.81 L367.81,229.22 L369.27,229.62 L370.72,230.02 L372.18,230.40 L373.64,230.78 L375.09,231.15 L376.55,231.52 L378.01,231.87 L379.46,232.22 L380.92,232.56 L382.38,232.90 L383.83,233.22 L385.29,233.55 L386.75,233.86 L388.20,234.17 L389.66,234.47 L391.12,234.77 L392.57,235.06" fill="none" stroke="#ff4500" stroke-width="1.0" stroke-dasharray="2.6 1.8 1.0 1.8" clip-path="url(#cr)"/>
<path d="M62.88,-4.97 L64.32,0.59 L65.75,6.07 L67.18,11.46 L68.62,16.77 L70.05,21.98 L71.49,27.10 L72.92,32.13 L74.36,37.05 L75.79,41.86 L77.22,46.57 L78.66,51.17 L80.09,55.66 L81.53,60.03 L82.96,64.29 L84.39,68.43 L85.83,72.46 L87.26,76.37 L88.70,80.16 L90.13,83.84 L91.56,87.40 L93.00,90.84 L94.43,94.18 L95.87,97.40 L97.30,100.51 L98.73,103.52 L100.17,106.42 L101.60,109.22 L103.04,111.92 L104.47,114.52 L105.91,117.03 L107.34,119.45 L108.77,121.78 L110.21,124.03 L111.64,126.19 L113.08,128.27 L114.51,130.28 L115.94,132.22 L117.38,134.09 L118.81,135.89 L120.25,137.62 L121.68,139.29 L123.11,140.91 L124.55,142.46 L125.98,143.96 L127.42,145.41 L128.85,146.81 L130.29,148.16 L131.72,149.47 L133.15,150.73 L134.59,151.95 L136.02,153.12 L137.46,154.26 L138.89,155.37 L140.32,156.43 L141.76,157.47 L143.19,158.47 L144.63,159.44 L146.06,160.37 L147.49,161.28 L148.93,162.17 L150.36,163.02 L151.80,163.85 L153.23,164.66 L154.67,165.44 L156.10,166.20 L157.53,166.94 L158.97,167.66 L160.40,168.36 L161.84,169.04 L163.27,169.70 L164.70,170.34 L166.14,170.96 L167.57,171.57 L169.01,172.16 L170.44,172.74 L171.87,173.30 L173.31,173.85 L174.74,174.39 L176.18,174.91 L177.61,175.42 L179.04,175.91 L180.48,176.40 L181.91,176.87 L183.35,177.33 L184.78,177.78 L186.22,178.22 L187.65,178.65 L189.08,179.07 L190.52,179.48" fill="none" stroke="#707070" stroke-width="1.0" stroke-dasharray="1.1 1.5 1.1 5.4" clip-path="url(#cl)"/>
<path d="M262.93,238.81 L264.38,237.43 L265.84,236.07 L267.30,234.72 L268.75,233.39 L270.21,232.08 L271.67,230.80 L273.12,229.56 L274.58,228.35 L276.04,227.19 L277.49,226.08 L278.95,225.02 L280.41,224.02 L281.86,223.08 L283.32,222.20 L284.78,221.38 L286.23,220.64 L287.69,219.96 L289.15,219.35 L290.60,218.81 L292.06,218.34 L293.52,217.93 L294.97,217.59 L296.43,217.32 L297.89,217.10 L299.34,216.95 L300.80,216.85 L302.26,216.81 L303.71,216.81 L305.17,216.86 L306.63,216.96 L308.08,217.09 L309.54,217.27 L311.00,217.47 L312.45,217.71 L313.91,217.97 L315.37,218.26 L316.82,218.57 L318.28,218.90 L319.74,219.24 L321.19,219.61 L322.65,219.98 L324.11,220.36 L325.56,220.76 L327.02,221.16 L328.48,221.56 L329.94,221.98 L331.39,222.39 L332.85,222.81 L334.31,223.23 L335.76,223.64 L337.22,224.06 L338.68,224.48 L340.13,224.89 L341.59,225.31 L343.05,225.72 L344.50,226.12 L345.96,226.53 L347.42,226.92 L348.87,227.32 L350.33,227.71 L351.79,228.10 L353.24,228.48 L354.70,228.85 L356.16,229.22 L357.61,229.59 L359.07,229.95 L360.53,230.30 L361.98,230.65 L363.44,231.00 L364.90,231.34 L366.35,231.67 L367.81,232.00 L369.27,232.32 L370.72,232.64 L372.18,232.95 L373.64,233.26 L375.09,233.56 L376.55,233.86 L378.01,234.15 L379.46,234.44 L380.92,234.72 L382.38,235.00 L383.83,235.27 L385.29,235.54 L386.75,235.80 L388.20,236.06 L389.66,236.32 L391.12,236.57 L392.57,236.82" fill="none" stroke="#707070" stroke-width="1.0" stroke-dasharray="1.1 1.5 1.1 5.4" clip-path="url(#cr)"/>
<path d="M62.50,81.97 L62.84,84.22 L63.17,86.47 L63.50,88.73 L63.83,91.00 L64.16,93.28 L64.49,95.57 L64.82,97.86 L65.16,100.17 L65.49,102.48 L65.82,104.81 L66.15,107.14 L66.48,109.49 L66.81,111.85 L67.14,114.21 L67.47,116.59 L67.81,118.98 L68.14,121.38 L68.47,123.80 L68.80,126.22 L69.13,128.66 L69.46,131.11 L69.79,133.58 L70.13,136.06 L70.46,138.55 L70.79,141.06 L71.12,143.58 L71.45,146.13 L71.78,148.68 L72.11,151.26 L72.44,153.85 L72.78,156.46 L73.11,159.10 L73.44,161.75 L73.77,164.42 L74.10,167.12 L74.43,169.84 L74.76,172.59 L75.10,175.36 L75.43,178.16 L75.76,180.99 L76.09,183.85 L76.42,186.75 L76.75,189.68 L77.08,192.65 L77.41,195.66 L77.75,198.72 L78.08,201.83 L78.41,204.99 L78.74,208.22 L79.07,211.51 L79.40,214.88 L79.73,218.34 L80.07,221.91 L80.40,225.61 L80.73,229.47 L81.06,233.53 L81.39,237.91 L81.72,242.79 L82.05,249.50" fill="none" stroke="#000" stroke-width="1.3" stroke-dasharray="3.2 1.6" clip-path="url(#cl)"/>
<text x="364.30" y="24.30" font-size="10" text-anchor="end" >N<tspan font-size="8" dy="2.5">f</tspan><tspan dy="-2.5"> = 2, m = 0.0025</tspan></text>
<line x1="370.3" y1="20.30" x2="396" y2="20.30" stroke="#000000" stroke-width="0.9" />
<text x="364.30" y="34.45" font-size="10" text-anchor="end" >0.0030</text>
<line x1="370.3" y1="30.45" x2="396" y2="30.45" stroke="#ff0000" stroke-width="0.95" stroke-dasharray="2.8 1.4"/>
<text x="364.30" y="44.60" font-size="10" text-anchor="end" >0.00375</text>
<line x1="370.3" y1="40.60" x2="396" y2="40.60" stroke="#707070" stroke-width="1.0" stroke-dasharray="1.1 1.5 1.1 5.4"/>
<text x="364.30" y="54.75" font-size="10" text-anchor="end" >0.0040</text>
<line x1="370.3" y1="50.75" x2="396" y2="50.75" stroke="#3030ff" stroke-width="1.4" stroke-dasharray="2.8 1.3"/>
<text x="364.30" y="64.90" font-size="10" text-anchor="end" >0.0050</text>
<line x1="370.3" y1="60.90" x2="396" y2="60.90" stroke="#ff2020" stroke-width="1.35" />
<text x="364.30" y="75.05" font-size="10" text-anchor="end" >0.0075</text>
<line x1="370.3" y1="71.05" x2="396" y2="71.05" stroke="#00e000" stroke-width="1.1" stroke-dasharray="1.1 2.0"/>
<text x="364.30" y="85.20" font-size="10" text-anchor="end" >0.0080</text>
<line x1="370.3" y1="81.20" x2="396" y2="81.20" stroke="#0000ff" stroke-width="1.0" />
<text x="364.30" y="95.35" font-size="10" text-anchor="end" >0.0100</text>
<line x1="370.3" y1="91.35" x2="396" y2="91.35" stroke="#ff00ff" stroke-width="0.9" stroke-dasharray="1.0 1.0"/>
<text x="364.30" y="105.50" font-size="10" text-anchor="end" >0.0125</text>
<line x1="370.3" y1="101.50" x2="396" y2="101.50" stroke="#00e8e8" stroke-width="1.0" stroke-dasharray="4.9 0.9 1.0 0.9"/>
<text x="364.30" y="115.65" font-size="10" text-anchor="end" >0.0150</text>
<line x1="370.3" y1="111.65" x2="396" y2="111.65" stroke="#ff4500" stroke-width="1.0" stroke-dasharray="2.6 1.8 1.0 1.8"/>
<text x="364.30" y="125.80" font-size="10" text-anchor="end" >0.0200</text>
<line x1="370.3" y1="121.80" x2="396" y2="121.80" stroke="#707070" stroke-width="1.0" stroke-dasharray="1.1 1.5 1.1 5.4"/>
<text x="167.70" y="24.30" font-size="10" text-anchor="end" >m = 0, extrapolation</text>
<text x="167.70" y="35.50" font-size="10" text-anchor="end" >12 x 32<tspan font-size="8.2" dy="-5" dx="-0.5">3</tspan><tspan dy="5" dx="0.1">, 32</tspan><tspan font-size="8.2" dy="-5" dx="-0.5">4</tspan><tspan dy="5" dx="0.1">, fitted</tspan></text>
<text x="167.70" y="44.60" font-size="10" text-anchor="end" >excluded</text>
<text x="167.70" y="55.50" font-size="10" text-anchor="end" >8 x 28<tspan font-size="8.2" dy="-5" dx="-0.5">3</tspan><tspan dy="5" dx="0.1">, fitted</tspan></text>
<text x="167.70" y="64.60" font-size="10" text-anchor="end" >excluded</text>
<line x1="174" y1="20.8" x2="194.6" y2="20.8" stroke="#000" stroke-width="1.2" stroke-dasharray="3.2 1.6"/>
<g stroke="#222" stroke-width="0.6" fill="none"><path d="M174.1,30.5H193.8 M174.1,28.5V32.5 M193.8,28.5V32.5" stroke-dasharray="0.8 1.1"/></g><circle cx="183.7" cy="30.5" r="2.5" fill="#000"/>
<g stroke="#000" stroke-width="0.6" fill="none"><path d="M174.3,40.4H193.9 M174.3,38.2V42.6 M193.9,38.2V42.6"/><circle cx="183.7" cy="40.4" r="2.2"/></g>
<g stroke="#222" stroke-width="0.6" fill="none"><path d="M174.1,50.6h1.5 M178.6,50.6h0.9 M188.5,50.6h2.3 M193.0,50.6h0.8 M174.2,48.6v1.2 M174.2,51.2v1.2 M193.8,48.6v1.2 M193.8,51.4v1.0"/></g><rect x="181.5" y="48.4" width="4.4" height="4.4" fill="#000"/>
<g stroke="#222" stroke-width="0.6" fill="none"><path d="M174.4,58.2V62.6 M177.9,60.4h0.8 M192.3,60.4L194.1,58.9 M192.3,60.4L194.1,61.9"/><rect x="181.7" y="58.2" width="4.4" height="4.4" stroke="#333"/><path d="M183.2,60.4h1.4"/></g>
<text x="25.80" y="18.50" font-size="13.5" text-anchor="start" >σ</text>
<text transform="translate(126.9,277.8) scale(0.88,1)" font-size="14.5" text-anchor="middle">β</text>
<text transform="translate(328.1,277.8) scale(0.88,1)" font-size="14.5" text-anchor="middle">β</text>
<path d="M225.1,11.7 C225.6,10.3 227.0,10.2 227.5,11.6 L229.6,18.7 C230.0,20.0 231.1,20.0 231.7,18.9" fill="none" stroke="#000" stroke-width="1.25"/><path d="M231.4,10.4 L225.5,20.1" fill="none" stroke="#000" stroke-width="0.65"/><path d="M233.6,13.9 V21.6" stroke="#000" stroke-width="0.9"/>
<rect x="72.7" y="96.7" width="4.8" height="4.6" fill="none" stroke="#222" stroke-width="0.6"/><rect x="72.9" y="98.5" width="4.4" height="1.0" fill="#777"/>
<rect x="76.2" y="91.4" width="4.8" height="4.6" fill="none" stroke="#222" stroke-width="0.6"/><rect x="76.4" y="93.2" width="4.4" height="1.0" fill="#777"/>
<rect x="76.2" y="116.1" width="4.8" height="4.6" fill="none" stroke="#222" stroke-width="0.6"/><rect x="76.4" y="117.9" width="4.4" height="1.0" fill="#777"/>
<rect x="80.4" y="136.7" width="4.8" height="4.6" fill="none" stroke="#222" stroke-width="0.6"/><rect x="80.6" y="138.5" width="4.4" height="1.0" fill="#777"/>
<rect x="97.8" y="97.4" width="4.8" height="4.6" fill="none" stroke="#222" stroke-width="0.6"/><rect x="98.0" y="99.2" width="4.4" height="1.0" fill="#777"/>
<circle cx="75.1" cy="32.8" r="2.55" fill="none" stroke="#000" stroke-width="0.7"/><rect x="73.5" y="32.3" width="3.2" height="1.0" fill="#555"/>
<circle cx="75.1" cy="69.8" r="2.55" fill="none" stroke="#000" stroke-width="0.7"/><rect x="73.5" y="69.3" width="3.2" height="1.0" fill="#555"/>
<circle cx="78.6" cy="55.9" r="2.55" fill="none" stroke="#000" stroke-width="0.7"/><rect x="77.0" y="55.4" width="3.2" height="1.0" fill="#555"/>
<circle cx="82.8" cy="76.7" r="2.55" fill="none" stroke="#000" stroke-width="0.7"/><rect x="81.2" y="76.2" width="3.2" height="1.0" fill="#555"/>
<circle cx="82.8" cy="95.3" r="2.55" fill="none" stroke="#000" stroke-width="0.7"/><rect x="81.2" y="94.8" width="3.2" height="1.0" fill="#555"/>
<circle cx="82.8" cy="112.6" r="2.55" fill="none" stroke="#000" stroke-width="0.7"/><rect x="81.2" y="112.1" width="3.2" height="1.0" fill="#555"/>
<circle cx="87.7" cy="97.9" r="2.55" fill="none" stroke="#000" stroke-width="0.7"/><rect x="86.1" y="97.4" width="3.2" height="1.0" fill="#555"/>
<circle cx="87.7" cy="112.6" r="2.55" fill="none" stroke="#000" stroke-width="0.7"/><rect x="86.1" y="112.1" width="3.2" height="1.0" fill="#555"/>
<circle cx="93.3" cy="116.8" r="2.55" fill="none" stroke="#000" stroke-width="0.7"/><rect x="91.7" y="116.3" width="3.2" height="1.0" fill="#555"/>
<rect x="106.2" y="116.4" width="4.6" height="4.6" fill="#000"/>
<rect x="106.2" y="140.4" width="4.6" height="4.6" fill="#000"/>
<rect x="116.8" y="131.9" width="4.6" height="4.6" fill="#000"/>
<rect x="116.8" y="155.9" width="4.6" height="4.6" fill="#000"/>
<rect x="130.2" y="169.3" width="4.6" height="4.6" fill="#000"/>
<rect x="130.2" y="192.6" width="4.6" height="4.6" fill="#000"/>
<rect x="130.2" y="218.6" width="4.6" height="4.6" fill="#000"/>
<rect x="130.2" y="232.7" width="4.6" height="4.6" fill="#000"/>
<rect x="148.2" y="201.7" width="4.6" height="4.6" fill="#000"/>
<rect x="148.2" y="223.7" width="4.6" height="4.6" fill="#000"/>
<rect x="148.2" y="234.9" width="4.6" height="4.6" fill="#000"/>
<rect x="173.3" y="209.1" width="4.6" height="4.6" fill="#000"/>
<rect x="173.3" y="227.2" width="4.6" height="4.6" fill="#000"/>
<rect x="173.3" y="237.2" width="4.6" height="4.6" fill="#000"/>
<circle cx="82.8" cy="131.2" r="2.5" fill="#000"/>
<circle cx="87.7" cy="129.5" r="2.5" fill="#000"/>
<circle cx="87.7" cy="144.2" r="2.5" fill="#000"/>
<circle cx="87.7" cy="147.4" r="2.5" fill="#000"/>
<circle cx="87.7" cy="163.2" r="2.5" fill="#000"/>
<circle cx="87.7" cy="177.2" r="2.5" fill="#000"/>
<circle cx="87.7" cy="191.7" r="2.5" fill="#000"/>
<circle cx="87.7" cy="202.3" r="2.5" fill="#000"/>
<circle cx="93.3" cy="128.2" r="2.5" fill="#000"/>
<circle cx="93.3" cy="147.4" r="2.5" fill="#000"/>
<circle cx="93.3" cy="158.4" r="2.5" fill="#000"/>
<circle cx="93.3" cy="162.1" r="2.5" fill="#000"/>
<circle cx="93.3" cy="184.8" r="2.5" fill="#000"/>
<circle cx="93.3" cy="190.3" r="2.5" fill="#000"/>
<circle cx="93.3" cy="205.4" r="2.5" fill="#000"/>
<circle cx="93.3" cy="211.6" r="2.5" fill="#000"/>
<circle cx="100.2" cy="131.6" r="2.5" fill="#000"/>
<circle cx="100.2" cy="145.2" r="2.5" fill="#000"/>
<circle cx="100.2" cy="159.8" r="2.5" fill="#000"/>
<circle cx="100.2" cy="172.7" r="2.5" fill="#000"/>
<circle cx="100.2" cy="178.5" r="2.5" fill="#000"/>
<circle cx="100.2" cy="197.2" r="2.5" fill="#000"/>
<circle cx="100.2" cy="205.5" r="2.5" fill="#000"/>
<circle cx="100.2" cy="208.0" r="2.5" fill="#000"/>
<circle cx="100.2" cy="215.3" r="2.5" fill="#000"/>
<circle cx="100.2" cy="221.2" r="2.5" fill="#000"/>
<circle cx="108.5" cy="174.5" r="2.5" fill="#000"/>
<circle cx="108.5" cy="185.1" r="2.5" fill="#000"/>
<circle cx="108.5" cy="188.5" r="2.5" fill="#000"/>
<circle cx="108.5" cy="207.8" r="2.5" fill="#000"/>
<circle cx="108.5" cy="216.0" r="2.5" fill="#000"/>
<circle cx="108.5" cy="224.0" r="2.5" fill="#000"/>
<circle cx="108.5" cy="227.1" r="2.5" fill="#000"/>
<circle cx="119.1" cy="185.5" r="2.5" fill="#000"/>
<circle cx="119.1" cy="197.2" r="2.5" fill="#000"/>
<circle cx="119.1" cy="216.2" r="2.5" fill="#000"/>
<circle cx="119.1" cy="220.4" r="2.5" fill="#000"/>
<circle cx="119.1" cy="227.7" r="2.5" fill="#000"/>
<circle cx="119.1" cy="231.0" r="2.5" fill="#000"/>
<rect x="272.9" y="129.3" width="4.8" height="4.6" fill="none" stroke="#222" stroke-width="0.6"/><rect x="273.1" y="131.1" width="4.4" height="1.0" fill="#777"/>
<rect x="276.6" y="138.7" width="4.8" height="4.6" fill="none" stroke="#222" stroke-width="0.6"/><rect x="276.8" y="140.5" width="4.4" height="1.0" fill="#777"/>
<rect x="280.6" y="139.4" width="4.8" height="4.6" fill="none" stroke="#222" stroke-width="0.6"/><rect x="280.8" y="141.2" width="4.4" height="1.0" fill="#777"/>
<rect x="298.4" y="209.3" width="4.8" height="4.6" fill="none" stroke="#222" stroke-width="0.6"/><rect x="298.6" y="211.1" width="4.4" height="1.0" fill="#777"/>
<circle cx="275.3" cy="151.0" r="2.55" fill="none" stroke="#000" stroke-width="0.7"/><rect x="273.7" y="150.5" width="3.2" height="1.0" fill="#555"/>
<circle cx="279.0" cy="166.0" r="2.55" fill="none" stroke="#000" stroke-width="0.7"/><rect x="277.4" y="165.5" width="3.2" height="1.0" fill="#555"/>
<circle cx="279.0" cy="173.7" r="2.55" fill="none" stroke="#000" stroke-width="0.7"/><rect x="277.4" y="173.2" width="3.2" height="1.0" fill="#555"/>
<circle cx="283.0" cy="181.0" r="2.55" fill="none" stroke="#000" stroke-width="0.7"/><rect x="281.4" y="180.5" width="3.2" height="1.0" fill="#555"/>
<circle cx="288.1" cy="184.6" r="2.55" fill="none" stroke="#000" stroke-width="0.7"/><rect x="286.5" y="184.1" width="3.2" height="1.0" fill="#555"/>
<circle cx="288.1" cy="189.5" r="2.55" fill="none" stroke="#000" stroke-width="0.7"/><rect x="286.5" y="189.0" width="3.2" height="1.0" fill="#555"/>
<circle cx="293.8" cy="195.9" r="2.55" fill="none" stroke="#000" stroke-width="0.7"/><rect x="292.2" y="195.4" width="3.2" height="1.0" fill="#555"/>
<rect x="307.2" y="205.9" width="4.6" height="4.6" fill="#000"/>
<rect x="307.2" y="213.4" width="4.6" height="4.6" fill="#000"/>
<rect x="317.8" y="210.1" width="4.6" height="4.6" fill="#000"/>
<rect x="317.8" y="218.3" width="4.6" height="4.6" fill="#000"/>
<rect x="331.5" y="195.5" width="4.6" height="4.6" fill="#000"/>
<rect x="331.5" y="197.7" width="4.6" height="4.6" fill="#000"/>
<rect x="331.5" y="207.0" width="4.6" height="4.6" fill="#000"/>
<rect x="331.5" y="215.7" width="4.6" height="4.6" fill="#000"/>
<rect x="349.6" y="211.8" width="4.6" height="4.6" fill="#000"/>
<rect x="349.6" y="213.7" width="4.6" height="4.6" fill="#000"/>
<rect x="349.6" y="218.1" width="4.6" height="4.6" fill="#000"/>
<rect x="375.2" y="225.3" width="4.6" height="4.6" fill="#000"/>
<rect x="375.2" y="227.8" width="4.6" height="4.6" fill="#000"/>
<circle cx="283.0" cy="161.3" r="2.5" fill="#000"/>
<circle cx="288.1" cy="46.2" r="2.5" fill="#000"/>
<circle cx="288.1" cy="73.0" r="2.5" fill="#000"/>
<circle cx="288.1" cy="111.5" r="2.5" fill="#000"/>
<circle cx="288.1" cy="160.6" r="2.5" fill="#000"/>
<circle cx="288.1" cy="166.0" r="2.5" fill="#000"/>
<circle cx="288.1" cy="173.0" r="2.5" fill="#000"/>
<circle cx="288.1" cy="176.0" r="2.5" fill="#000"/>
<circle cx="293.8" cy="77.0" r="2.5" fill="#000"/>
<circle cx="293.8" cy="92.1" r="2.5" fill="#000"/>
<circle cx="293.8" cy="121.6" r="2.5" fill="#000"/>
<circle cx="293.8" cy="139.2" r="2.5" fill="#000"/>
<circle cx="293.8" cy="173.7" r="2.5" fill="#000"/>
<circle cx="293.8" cy="180.5" r="2.5" fill="#000"/>
<circle cx="293.8" cy="183.2" r="2.5" fill="#000"/>
<circle cx="293.8" cy="197.4" r="2.5" fill="#000"/>
<circle cx="300.8" cy="118.4" r="2.5" fill="#000"/>
<circle cx="300.8" cy="121.6" r="2.5" fill="#000"/>
<circle cx="300.8" cy="134.1" r="2.5" fill="#000"/>
<circle cx="300.8" cy="151.8" r="2.5" fill="#000"/>
<circle cx="300.8" cy="174.0" r="2.5" fill="#000"/>
<circle cx="300.8" cy="182.4" r="2.5" fill="#000"/>
<circle cx="300.8" cy="193.8" r="2.5" fill="#000"/>
<circle cx="300.8" cy="201.0" r="2.5" fill="#000"/>
<circle cx="300.8" cy="204.0" r="2.5" fill="#000"/>
<circle cx="309.5" cy="155.3" r="2.5" fill="#000"/>
<circle cx="309.5" cy="158.6" r="2.5" fill="#000"/>
<circle cx="309.5" cy="164.8" r="2.5" fill="#000"/>
<circle cx="309.5" cy="168.6" r="2.5" fill="#000"/>
<circle cx="309.5" cy="182.8" r="2.5" fill="#000"/>
<circle cx="309.5" cy="185.8" r="2.5" fill="#000"/>
<circle cx="309.5" cy="196.8" r="2.5" fill="#000"/>
<circle cx="320.1" cy="178.0" r="2.5" fill="#000"/>
<circle cx="320.1" cy="180.6" r="2.5" fill="#000"/>
<circle cx="320.1" cy="188.2" r="2.5" fill="#000"/>
<circle cx="320.1" cy="196.9" r="2.5" fill="#000"/>
<circle cx="320.1" cy="203.2" r="2.5" fill="#000"/>
<path d="M286.5,156.1L287.9,157.9M290.1,156.1L288.8,157.9" stroke="#aaa" stroke-width="0.5" fill="none"/>
</g>
</svg>
</div>
</body></html>
